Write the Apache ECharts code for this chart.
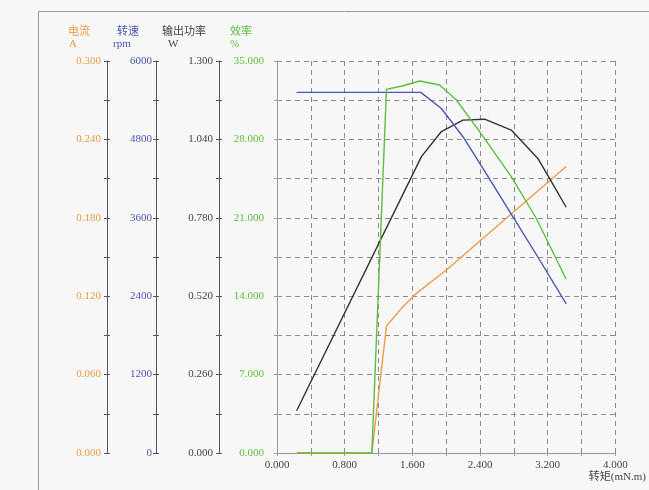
<!DOCTYPE html>
<html>
<head>
<meta charset="utf-8">
<script src="https://cdn.jsdelivr.net/npm/echarts@6/dist/echarts.min.js"></script>
<style>html,body{margin:0;padding:0;background:#f7f7f7;}#c{width:649px;height:490px;}</style>
</head>
<body>
<div id="c"></div>
<script>
// ---- data ----
const torqueTicks = [0, 0.8, 1.6, 2.4, 3.2, 4.0];
const currentTicks = [0, 0.06, 0.12, 0.18, 0.24, 0.30];
const speedTicks = [0, 1200, 2400, 3600, 4800, 6000];
const powerTicks = [0, 0.26, 0.52, 0.78, 1.04, 1.30];
const effTicks = [0, 7, 14, 21, 28, 35];

const currentTorque = [0.232, 1.121, 1.294, 1.471, 1.648, 2.002, 3.418];
const currentValues = [0, 0, 0.0972, 0.1107, 0.1222, 0.140, 0.2193];

const speedTorque = [0.232, 1.699, 1.943, 2.198, 2.454, 2.769, 3.083, 3.418];
const speedValues = [5520, 5520, 5273, 4841, 4316, 3658, 3000, 2281];

const powerTorque = [0.232, 1.707, 1.943, 2.198, 2.454, 2.769, 3.083, 3.221, 3.418];
const powerValues = [0.140, 0.983, 1.066, 1.104, 1.107, 1.071, 0.977, 0.911, 0.815];

const effTorque = [0.232, 1.121, 1.294, 1.490, 1.687, 1.923, 2.120, 2.395, 2.769, 3.064, 3.418];
const effValues = [0, 0, 32.47, 32.79, 33.21, 32.86, 31.52, 28.69, 24.67, 20.96, 15.51];

const C_ORANGE = '#ED9C45', C_BLUE = '#4B56B5', C_BLACK = '#333333', C_GREEN = '#5DBE3F';
const SERIF = '"Liberation Serif", "Noto Sans CJK SC", serif';

function pairs(xs, ys) { return xs.map((x, i) => [x, ys[i]]); }

function yAxisFor(ticks, offset, color, title, unit, padR, titlePadL, unitPadL, margin, decimals, lineColor) {
  const base = { align: 'left', fontSize: 11, lineHeight: 12, fontFamily: SERIF, color: color };
  return {
    type: 'value', position: 'left', offset: offset,
    min: ticks[0], max: ticks[ticks.length - 1], interval: ticks[1] - ticks[0],
    name: '{t|' + title + '}\n{u|' + unit + '}',
    nameLocation: 'end', nameGap: 11,
    nameTextStyle: {
      align: 'right', verticalAlign: 'bottom', padding: [0, padR, 0, 0],
      rich: {
        t: Object.assign({ padding: [0, 0, 0, titlePadL] }, base),
        u: Object.assign({ padding: [0, 0, 0, unitPadL] }, base)
      }
    },
    axisLine: { show: true, onZero: false, lineStyle: { color: lineColor, width: 1 } },
    axisTick: { show: true, length: 3, lineStyle: { color: lineColor } },
    minorTick: { show: true, splitNumber: 2, length: 3, lineStyle: { color: lineColor } },
    axisLabel: { margin: margin, color: color, fontSize: 11, fontFamily: SERIF,
      formatter: v => v.toFixed(decimals) },
    splitLine: { show: false }
  };
}

// companion axis drawing only the inner half of each tick, so the ticks cross the axis line
function innerTicks(ticks, offset, lineColor) {
  return {
    type: 'value', position: 'left', offset: offset,
    min: ticks[0], max: ticks[ticks.length - 1], interval: ticks[1] - ticks[0],
    axisLine: { show: false, onZero: false },
    axisTick: { show: true, inside: true, length: 3, lineStyle: { color: lineColor } },
    minorTick: { show: true, splitNumber: 2, length: 3, lineStyle: { color: lineColor } },
    axisLabel: { show: false },
    splitLine: { show: false }
  };
}

const chart = echarts.init(document.getElementById('c'));
const dash = { color: '#8c8c8c', width: 1, type: [5, 4] };
const option = {
  backgroundColor: '#f7f7f7',
  animation: false,
  graphic: [{
    type: 'rect', silent: true, z: -10,
    shape: { x: 38.5, y: 11.5, width: 700, height: 600 },
    style: { fill: 'none', stroke: '#9a9a9a', lineWidth: 1 }
  }],
  grid: { left: 277, right: 32, top: 61, bottom: 37 },
  xAxis: {
    type: 'value',
    min: torqueTicks[0], max: torqueTicks[torqueTicks.length - 1], interval: torqueTicks[1] - torqueTicks[0],
    name: '转矩(mN.m)', nameLocation: 'end', nameGap: 2,
    nameTextStyle: { align: 'center', verticalAlign: 'top', padding: [19, 0, 0, 0],
      fontSize: 11, fontFamily: SERIF, color: '#444' },
    axisLine: { show: true, onZero: false, lineStyle: { color: '#999', width: 1 } },
    axisTick: { show: true, length: 3, lineStyle: { color: '#999' } },
    minorTick: { show: true, splitNumber: 2, length: 3, lineStyle: { color: '#999' } },
    axisLabel: { margin: 7, color: '#444', fontSize: 11, fontFamily: SERIF, formatter: v => v.toFixed(3) },
    splitLine: { show: true, lineStyle: dash },
    minorSplitLine: { show: true, lineStyle: dash }
  },
  yAxis: [
    yAxisFor(currentTicks, 170, C_ORANGE, '电流', 'A', 17, 0, 1, 6, 3, '#555'),
    yAxisFor(speedTicks, 121, C_BLUE, '转速', 'rpm', 17, 4, 0, 4, 0, '#555'),
    yAxisFor(powerTicks, 58, '#444', '输出功率', 'W', 13, 0, 6, 6, 3, '#555'),
    Object.assign(yAxisFor(effTicks, 0, C_GREEN, '效率', '%', 25, 0, 0, 13, 3, '#999'), {
      splitLine: { show: true, lineStyle: dash },
      minorSplitLine: { show: true, lineStyle: dash }
    }),
    innerTicks(currentTicks, 170, '#555'),
    innerTicks(speedTicks, 121, '#555'),
    innerTicks(powerTicks, 58, '#555'),
    innerTicks(effTicks, 0, '#999')
  ],
  series: [
    { name: '电流', type: 'line', yAxisIndex: 0, showSymbol: false, data: pairs(currentTorque, currentValues),
      lineStyle: { color: C_ORANGE, width: 1.4 }, itemStyle: { color: C_ORANGE } },
    { name: '输出功率', type: 'line', yAxisIndex: 2, showSymbol: false, data: pairs(powerTorque, powerValues),
      lineStyle: { color: C_BLACK, width: 1.4 }, itemStyle: { color: C_BLACK } },
    { name: '转速', type: 'line', yAxisIndex: 1, showSymbol: false, data: pairs(speedTorque, speedValues),
      lineStyle: { color: C_BLUE, width: 1.4 }, itemStyle: { color: C_BLUE } },
    { name: '效率', type: 'line', yAxisIndex: 3, showSymbol: false, data: pairs(effTorque, effValues),
      lineStyle: { color: C_GREEN, width: 1.4 }, itemStyle: { color: C_GREEN } }
  ]
};
chart.setOption(option);
</script>
</body>
</html>
